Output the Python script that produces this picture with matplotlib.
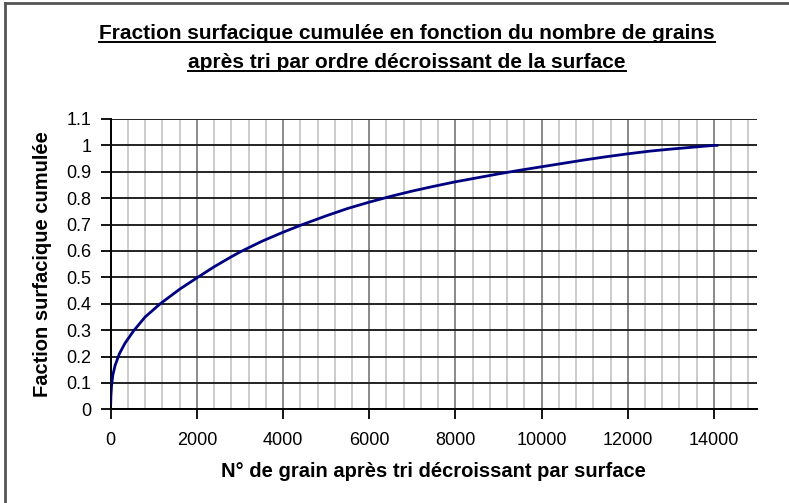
import matplotlib
matplotlib.use("Agg")
import matplotlib.pyplot as plt
from matplotlib.lines import Line2D
from matplotlib.ticker import MultipleLocator

# Cumulative area fraction vs grain rank (grains sorted by decreasing area)
grain_rank = [0, 5, 20, 50, 100, 200, 330, 530, 800, 1150, 1600, 2000,
              2400, 2800, 3000, 3500, 4000, 4450, 5000, 5500, 6000, 6500,
              7000, 7500, 8000, 8500, 9000, 9500, 10000, 10500, 11000,
              11500, 12000, 12500, 13000, 13500, 14000, 14070]
cum_fraction = [0.02, 0.05, 0.09, 0.13, 0.165, 0.21, 0.25, 0.297, 0.35,
                0.40, 0.455, 0.498, 0.540, 0.578, 0.596, 0.636, 0.671,
                0.700, 0.733, 0.761, 0.785, 0.807, 0.827, 0.845, 0.862,
                0.877, 0.892, 0.906, 0.919, 0.932, 0.945, 0.957, 0.968,
                0.978, 0.986, 0.993, 1.0, 1.0]

title_lines = ["Fraction surfacique cumulée en fonction du nombre de grains",
               "après tri par ordre décroissant de la surface"]
xlabel = "N° de grain après tri décroissant par surface"
ylabel = "Faction surfacique cumulée"

plt.rcParams["font.family"] = ["Liberation Sans", "DejaVu Sans"]

W, H = 789, 503
fig = plt.figure(figsize=(W / 100, H / 100), dpi=100)
ax = fig.add_axes([110.7 / W, 1 - 409.3 / H, (757 - 110.7) / W, (409.3 - 119) / H])

ax.plot(grain_rank, cum_fraction, color="#000080", lw=2.0, zorder=3)

ax.set_xlim(0, 15000)
ax.set_ylim(0, 1.1)
ax.xaxis.set_minor_locator(MultipleLocator(400))
xt = list(range(0, 15000, 2000))
ax.set_xticks(xt)
ax.set_xticklabels([str(v) for v in xt])
yt = [round(0.1 * i, 1) for i in range(12)]
ax.set_yticks(yt)
ax.set_yticklabels(["0", "0.1", "0.2", "0.3", "0.4", "0.5", "0.6", "0.7",
                    "0.8", "0.9", "1", "1.1"])

ax.grid(which="minor", axis="x", color="#cccccc", lw=1.4)
ax.grid(which="major", axis="x", color="#8a8a8a", lw=1.4)
ax.grid(which="major", axis="y", color="#222222", lw=1.4)
ax.set_axisbelow(True)

for s in ["top", "right"]:
    ax.spines[s].set_visible(False)
for s in ["left", "bottom"]:
    ax.spines[s].set_color("black")
    ax.spines[s].set_linewidth(1.4)

ax.tick_params(axis="both", which="major", direction="out", length=7,
               width=1.3, color="black", labelsize=13)
ax.tick_params(axis="y", pad=7)
ax.tick_params(axis="x", pad=9)
ax.tick_params(axis="x", which="minor", length=0)

ax.set_xlabel(xlabel, fontsize=14.5, fontweight="bold", labelpad=10)
ax.set_ylabel(ylabel, fontsize=14.5, fontweight="bold", labelpad=10)

# Two-line underlined title
t1 = fig.text(407 / W, 1 - 33 / H, title_lines[0], ha="center", va="center",
              fontsize=15, fontweight="bold")
t2 = fig.text(407 / W, 1 - 62 / H, title_lines[1], ha="center", va="center",
              fontsize=15, fontweight="bold")

# Chart frame (top and left edges)
fig.add_artist(Line2D([5 / W, 5 / W], [0, 1 - 3 / H], transform=fig.transFigure,
                      color="#555555", lw=2))
fig.add_artist(Line2D([5 / W, 1], [1 - 3 / H, 1 - 3 / H], transform=fig.transFigure,
                      color="#555555", lw=2))

fig.canvas.draw()
r = fig.canvas.get_renderer()
for t in (t1, t2):
    bb = t.get_window_extent(renderer=r)
    yline = bb.y0 + 1
    fig.add_artist(Line2D([bb.x0 / W, bb.x1 / W], [yline / H, yline / H],
                          transform=fig.transFigure, color="black", lw=1.4))

fig.savefig("out.png", dpi=100)
